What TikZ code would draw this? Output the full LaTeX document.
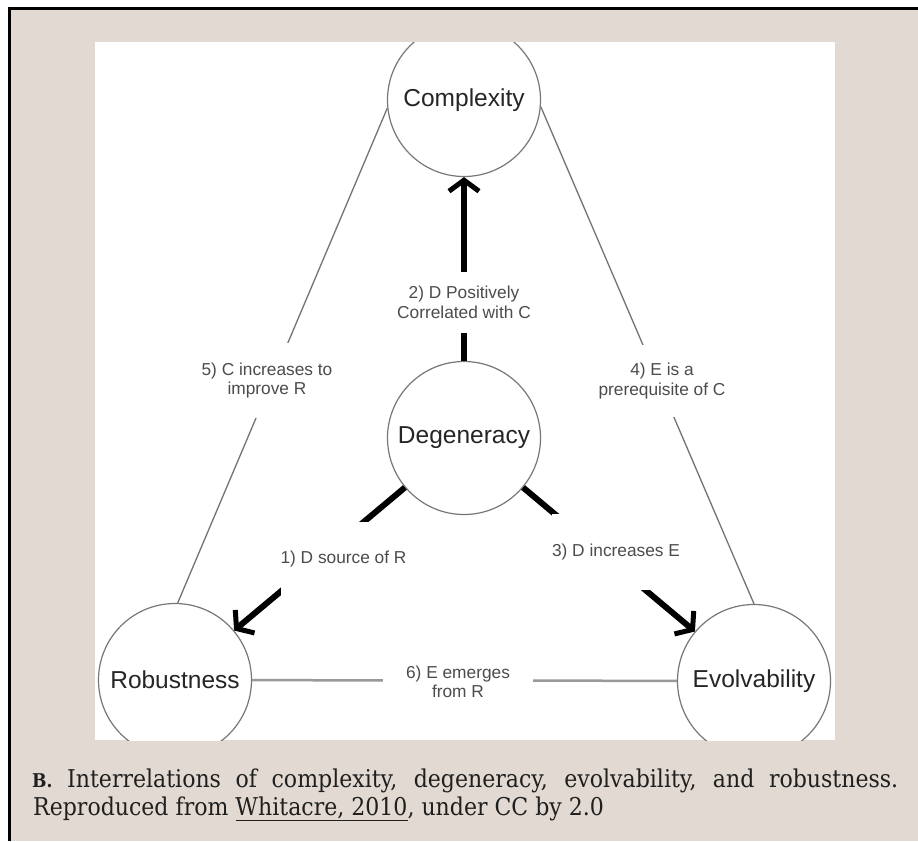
\documentclass[tikz,border=0pt]{standalone}
\usepackage{fontspec}
\setmainfont{DejaVu Serif}[FakeStretch=0.9]
\setsansfont{Liberation Sans}
\usetikzlibrary{arrows.meta}
\definecolor{beige}{HTML}{E2DAD2}
\definecolor{circ}{HTML}{777777}
\begin{document}
\begin{tikzpicture}[x=1pt,y=-1pt,
  state/.style={circle,draw=circ,line width=1.2pt,fill=white,minimum size=153pt,inner sep=0pt,
    font=\sffamily\fontsize{24.5}{24.5}\selectfont,text=black!85},
  lbl/.style={fill=white,font=\sffamily\fontsize{17.3}{19.5}\selectfont,text=black!70,
    align=center,inner xsep=0pt,inner ysep=0pt},
  thinline/.style={draw=black!55,line width=1.3pt},
  hline/.style={draw=black!40,line width=2.5pt},
  bigarrow/.style={line width=6pt,-{Straight Barb[length=11pt,width=30pt,line width=5pt]}}
]
\useasboundingbox (0,0) rectangle (918,841);
\fill[white] (0,0) rectangle (918,841);
\fill[beige] (9.5,8.5) rectangle (918,841);
\draw[black,line width=2.5pt] (9.5,841) -- (9.5,8.5) -- (918,8.5);
\fill[white] (95,42) rectangle (835,740);
\begin{scope}
\clip (95,42) rectangle (835,740);
\node[state] (C) at (464,100) {Complexity};
\node[state] (D) at (464,438) {Degeneracy};
\node[state] (R) at (175,680) {Robustness};
\node[state] (E) at (754,681) {Evolvability};
\draw[thinline] (C.186) -- (R.88);
\draw[thinline] (C.-5) -- (E.90);
\draw[hline] (R) -- (E);
\draw[bigarrow] (D) -- (C);
\draw[bigarrow] (D) -- (R);
\draw[bigarrow] (D) -- (E);
\node[lbl,minimum height=61pt] (l2) at (464,302.5) {2) D Positively\\Correlated with C};
\node[lbl,minimum height=75pt] (l1) at (343.5,559.5) {1) D source of R};
\node[lbl,minimum height=76pt] (l3) at (616,552) {3) D increases E};
\node[lbl,minimum height=75pt] (l5) at (267,380.5) {5) C increases to\\improve R};
\node[lbl,minimum height=72pt] (l4) at (662,381) {4) E is a\\prerequisite of C};
\node[lbl,minimum width=150pt,minimum height=40pt] (l6) at (458,682) {6) E emerges\\from R};
\end{scope}
\node[anchor=base west,inner sep=0pt,text=black!88,font=\fontsize{24.5}{28}\selectfont] (cap1) at (32,787)
  {\makebox[866pt][s]{{\bfseries\fontsize{19}{19}\selectfont B.} Interrelations of complexity, degeneracy, evolvability, and robustness.}};
\node[anchor=base west,inner sep=0pt,text=black!88,font=\fontsize{24.5}{28}\selectfont] (cap2) at (33,815)
  {Reproduced from \underline{Whitacre, 2010}, under CC by 2.0};
\end{tikzpicture}
\end{document}
